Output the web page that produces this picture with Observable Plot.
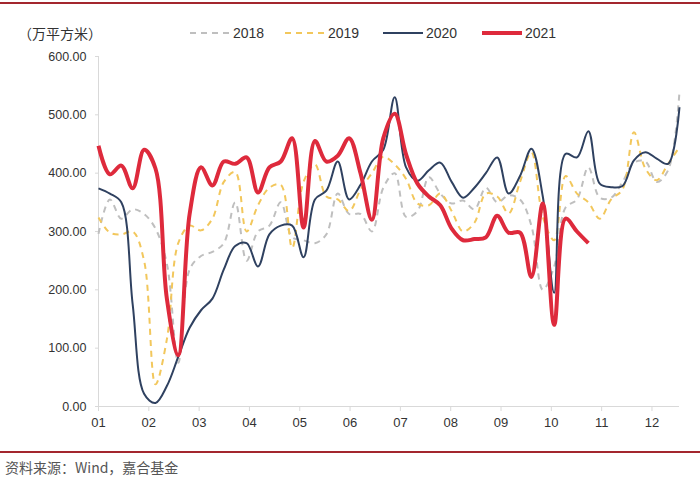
<!DOCTYPE html>
<html><head><meta charset="utf-8">
<script src="https://cdn.jsdelivr.net/npm/d3@7"></script>
<script src="https://cdn.jsdelivr.net/npm/@observablehq/plot@0.6"></script>
<style>
body{margin:0;background:#fff;}
#wrap{position:relative;width:700px;height:482px;overflow:hidden;font-family:"Noto Sans CJK SC","Noto Sans",sans-serif;color:#333;}
.hline{position:absolute;left:0;width:700px;height:2px;background:#A3262E;}
.unit{position:absolute;left:18px;top:23px;font-size:14px;line-height:20px;color:#333;}
.leg{position:absolute;top:23px;height:20px;display:flex;align-items:center;font-family:"Liberation Sans Narrow","Liberation Sans",sans-serif;font-size:14px;color:#333;}
.leg svg{margin-right:3px;}
#chart{position:absolute;left:0;top:46px;}
.src{position:absolute;left:5px;top:457px;font-size:14px;line-height:20px;color:#555;}
</style></head>
<body><div id="wrap">
<div class="hline" style="top:2px"></div>
<div class="unit">（万平方米）</div>
<div id="legend"></div>
<div id="chart"></div>
<div class="hline" style="top:451px"></div>
<div class="src">资料来源：Wind，嘉合基金</div>
</div>
<script>
const monthLabels = ["01","02","03","04","05","06","07","08","09","10","11","12"];
const years = ["2018","2019","2020","2021"];
const v2018 = [296,355,322,338,330,305,245,75,235,258,265,280,350,250,300,310,350,290,285,280,295,365,330,330,300,375,400,325,335,393,365,348,353,338,375,350,362,355,310,200,240,341,355,410,358,358,385,418,420,385,405,540];
const v2019 = [324,298,295,300,250,38,115,280,310,302,322,385,402,300,345,375,380,272,385,415,360,355,335,372,400,428,415,390,348,345,365,335,300,315,365,360,331,385,436,325,285,395,365,350,322,355,372,470,408,388,416,445];
const v2020 = [374,365,350,175,22,6,35,85,135,165,185,235,275,280,240,295,310,310,256,355,370,420,355,380,420,440,530,410,387,405,418,385,358,375,400,427,365,395,442,360,195,433,427,472,382,376,378,422,436,425,416,513];
const v2021 = [447,398,413,374,440,408,185,88,330,410,379,420,416,427,367,410,420,460,307,455,420,430,460,400,320,460,502,432,382,360,345,305,285,287,290,327,298,298,222,348,140,322,300,280];
const yTicks = [0,100,200,300,400,500,600];

const styles = {
  "2018": {stroke:"#BFBFBF", width:2, dash:"6,5"},
  "2019": {stroke:"#F2C75C", width:2, dash:"6,5"},
  "2020": {stroke:"#2F4160", width:2, dash:null},
  "2021": {stroke:"#DE2A3C", width:4, dash:null}
};
const series = {"2018":v2018,"2019":v2019,"2020":v2020,"2021":v2021};
// weekly points placed on a month axis (week i -> month position)
const weekX = i => 1 + i * 12 / 53;
const rows = y => series[y].map((v,i)=>({year:y, x:weekX(i), v}));

// legend
const legPos = {"2018":190,"2019":285,"2020":383,"2021":482};
const leg = document.getElementById("legend");
years.forEach(y=>{
  const s = styles[y];
  const d = document.createElement("div");
  d.className="leg"; d.style.left = legPos[y]+"px";
  d.innerHTML = `<svg width="40" height="10"><line x1="0" y1="5" x2="40" y2="5" stroke="${s.stroke}" stroke-width="${s.width}" ${s.dash?`stroke-dasharray="${s.dash}"`:""}/></svg><span>${y}</span>`;
  leg.appendChild(d);
});

const marks = [
  Plot.ruleY([0], {stroke:"#D9D9D9", strokeWidth:1}),
  Plot.ruleX([1], {stroke:"#D9D9D9", strokeWidth:1}),
  Plot.axisY({ticks:yTicks, tickFormat:d=>d.toFixed(2), tickSize:3, tickPadding:9, stroke:"#D9D9D9", fontSize:12.5, fill:"#333"}),
  Plot.axisX({ticks:d3.range(1,13), tickFormat:d=>monthLabels[d-1], tickSize:5, tickPadding:6, stroke:"#D9D9D9", fontSize:13, fill:"#333"}),
  ...years.map(y=>Plot.line(rows(y), {x:"x", y:"v", stroke:styles[y].stroke, strokeWidth:styles[y].width, strokeDasharray:styles[y].dash||undefined, curve:"catmull-rom", strokeLinejoin:"round", strokeLinecap:"butt"}))
];

const chart = Plot.plot({
  width:700, height:394,
  marginTop:10, marginBottom:34, marginLeft:98, marginRight:21,
  x:{domain:[1, weekX(51)], label:null},
  y:{domain:[0,600], label:null},
  style:{fontFamily:'"Liberation Sans Narrow","Liberation Sans",sans-serif', background:"transparent", overflow:"visible"},
  marks
});
document.getElementById("chart").appendChild(chart);
</script>
</body></html>
